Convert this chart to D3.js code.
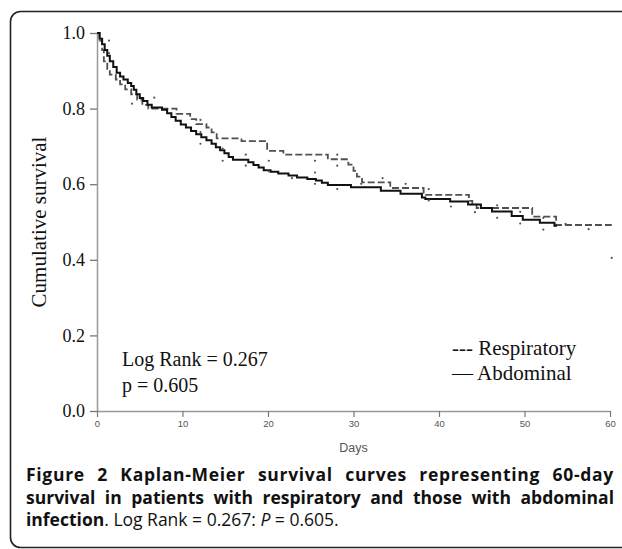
<!DOCTYPE html>
<html>
<head>
<meta charset="utf-8">
<script src="https://cdn.jsdelivr.net/npm/d3@7"></script>
<style>
  body { margin: 0; background: #fff; }
  #wrap { position: relative; width: 622px; height: 549px; overflow: hidden; }
  #caption {
    position: absolute; left: 26px; top: 463px; width: 588px;
    font-family: "Open Sans", sans-serif; font-size: 17.5px; line-height: 22.5px;
    color: #111;
  }
  #caption .ln { text-align: justify; text-align-last: justify; white-space: nowrap; }
  #caption .l1 { letter-spacing: 0.7px; }
  #caption .last { text-align: left; }
  #caption b { font-weight: 700; }
</style>
</head>
<body>
<div id="wrap">
  <svg id="chart" width="622" height="549"></svg>
  <div id="caption"></div>
</div>
<script>
// step points [day, survival]
var abdominal = [
  [0, 1.0], [0.3, .985], [0.6, .97], [0.9, .955], [1.2, .94], [1.5, .925], [1.9, .91],
  [2.3, .895], [2.7, .885], [3.1, .877], [3.6, .868], [4.0, .86], [4.3, .85], [4.6, .838],
  [5.0, .828], [5.4, .82], [5.9, .81], [6.4, .803], [7.6, .797], [8.2, .788], [8.7, .778],
  [9.2, .768], [9.8, .758], [10.4, .75], [11.0, .741], [11.6, .732], [12.2, .724],
  [12.8, .716], [13.4, .707], [13.9, .698], [14.4, .69], [14.9, .682], [15.4, .672],
  [15.9, .665], [17.7, .658], [18.3, .651], [18.9, .644], [19.5, .637], [20.3, .633],
  [21.2, .628], [22.4, .623], [23.4, .618], [24.6, .614], [25.6, .61], [26.3, .604],
  [27.0, .598], [29.7, .592], [33.2, .583], [35.5, .575], [38.0, .565], [38.4, .561],
  [41.3, .554], [43.4, .546], [44.9, .537], [46.2, .528], [48.5, .516], [49.8, .506],
  [51.8, .498], [53.5, .49], [53.8, .49]
];

var respiratory = [
  [0, 1.0], [0.3, .98], [0.6, .955], [0.8, .925], [1.2, .905], [1.5, .89], [2.2, .877],
  [2.7, .864], [3.3, .851], [4.0, .838], [4.7, .824], [5.3, .81], [6.0, .80], [9.3, .786],
  [10.9, .772], [11.6, .759], [12.8, .75], [13.4, .737], [14.0, .721], [16.9, .714],
  [19.9, .688], [21.8, .678], [27.0, .666], [29.4, .652], [30.0, .635], [30.4, .62],
  [31.0, .605], [34.3, .59], [38.2, .572], [43.5, .556], [43.9, .546], [44.4, .537],
  [50.9, .514], [53.7, .492], [60.2, .492]
];

// censor marks [day, survival]
var censored = [
  [1.4, .98], [1.4, .947], [4.1, .813], [6.7, .829], [12.1, .77], [12.1, .738], [12.1, .707],
  [14.7, .694], [14.7, .662], [17.4, .678], [17.4, .649], [20.1, .662], [20.1, .634],
  [22.8, .616], [25.5, .662], [25.5, .631], [25.5, .601], [28.1, .678], [28.1, .649],
  [28.1, .587], [30.9, .601], [33.4, .616], [36.1, .601], [38.8, .587], [38.8, .557],
  [41.4, .541], [44.2, .526], [46.8, .544], [46.8, .511], [49.5, .527], [49.5, .496],
  [52.2, .511], [52.2, .48], [54.8, .495], [57.5, .481], [60.2, .405]
];

var yTicks = [0, 0.2, 0.4, 0.6, 0.8, 1.0];
var xTicks = [0, 10, 20, 30, 40, 50, 60];
var legendLabels = ["--- Respiratory", "\u2014 Abdominal"];
var statLabels = ["Log Rank = 0.267", "p = 0.605"];

var svg = d3.select("#chart");

svg.append("rect")
    .attr("x", 10.5).attr("y", 11.5)
    .attr("width", 640).attr("height", 536)
    .attr("rx", 10)
    .attr("fill", "none")
    .attr("stroke", "#222")
    .attr("stroke-width", 1.6);

var x = d3.scaleLinear().domain([0, 60]).range([97, 610]);
var y = d3.scaleLinear().domain([0, 1]).range([411, 33]);

var yAxis = svg.append("g")
    .attr("transform", "translate(97,0)")
    .call(d3.axisLeft(y).tickValues(yTicks).tickFormat(d3.format(".1f"))
        .tickSize(7).tickSizeOuter(0).tickPadding(5));
yAxis.select(".domain").attr("stroke", "#999").attr("stroke-width", 1.5);
yAxis.selectAll(".tick line").attr("stroke", "#777").attr("stroke-width", 1.3);
yAxis.selectAll(".tick text")
    .attr("font-family", "Liberation Serif, serif")
    .attr("font-size", 18).attr("fill", "#111");

var xAxis = svg.append("g")
    .attr("transform", "translate(0,411)")
    .call(d3.axisBottom(x).tickValues(xTicks).tickSize(6).tickSizeOuter(0).tickPadding(3));
xAxis.select(".domain").attr("stroke", "#999").attr("stroke-width", 1.3);
xAxis.selectAll(".tick line").attr("stroke", "#777").attr("stroke-width", 1.2);
xAxis.selectAll(".tick text")
    .attr("font-family", "Liberation Sans, Arial, sans-serif")
    .attr("font-size", 9.5).attr("fill", "#555");

svg.append("text")
    .attr("x", x(30)).attr("y", 452)
    .attr("text-anchor", "middle")
    .attr("font-family", "Liberation Sans, Arial, sans-serif")
    .attr("font-size", 12.5).attr("fill", "#555")
    .text("Days");

svg.append("text")
    .attr("transform", "translate(46," + y(0.5) + ") rotate(-90)")
    .attr("text-anchor", "middle")
    .attr("font-family", "Liberation Serif, serif")
    .attr("font-size", 21).attr("fill", "#111")
    .text("Cumulative survival");

var line = d3.line()
    .curve(d3.curveStepAfter)
    .x(function(d) { return x(d[0]); })
    .y(function(d) { return y(d[1]); });

svg.append("path")
    .datum(respiratory)
    .attr("d", line)
    .attr("fill", "none")
    .attr("stroke", "#505050")
    .attr("stroke-width", 1.8)
    .attr("stroke-dasharray", "7,3");

svg.append("path")
    .datum(abdominal)
    .attr("d", line)
    .attr("fill", "none")
    .attr("stroke", "#111")
    .attr("stroke-width", 2);

svg.selectAll(".cens")
    .data(censored)
    .enter().append("circle")
    .attr("class", "cens")
    .attr("cx", function(d) { return x(d[0]); })
    .attr("cy", function(d) { return y(d[1]); })
    .attr("r", 1.1)
    .attr("fill", "#555");

svg.selectAll(".stat")
    .data(statLabels)
    .enter().append("text")
    .attr("class", "stat")
    .attr("x", 122)
    .attr("y", function(d, i) { return 366 + i * 26; })
    .attr("font-family", "Liberation Serif, serif")
    .attr("font-size", 20).attr("fill", "#111")
    .text(function(d) { return d; });

svg.selectAll(".leg")
    .data(legendLabels)
    .enter().append("text")
    .attr("class", "leg")
    .attr("x", 452)
    .attr("y", function(d, i) { return 355 + i * 25; })
    .attr("font-family", "Liberation Serif, serif")
    .attr("font-size", 21).attr("fill", "#111")
    .text(function(d) { return d; });

var cap = d3.select("#caption");
cap.append("div").attr("class", "ln l1")
    .html("<b>Figure 2 Kaplan-Meier survival curves representing 60-day</b>");
cap.append("div").attr("class", "ln")
    .html("<b>survival in patients with respiratory and those with abdominal</b>");
cap.append("div").attr("class", "last")
    .html("<b>infection</b>. Log Rank = 0.267: <i>P</i> = 0.605.");
</script>
</body>
</html>
